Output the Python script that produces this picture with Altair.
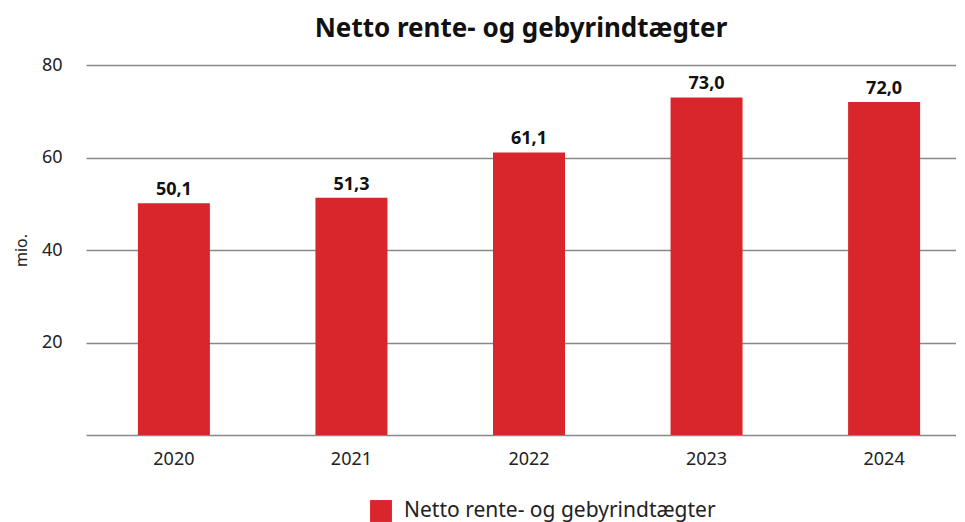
import altair as alt
import pandas as pd

years = ["2020", "2021", "2022", "2023", "2024"]
values = [50.1, 51.3, 61.1, 73.0, 72.0]
series_name = "Netto rente- og gebyrindtægter"

df = pd.DataFrame({
    "year": years,
    "value": values,
    "label": [f"{v:.1f}".replace(".", ",") for v in values],
    "series": [series_name] * len(years),
})

FONT = "Noto Sans"
RED = "#d9252c"
SHIFT = 8

base = alt.Chart(df)

xscale = alt.Scale(paddingInner=0.59, paddingOuter=0.245)

bars = base.mark_bar(size=72, xOffset=SHIFT).encode(
    x=alt.X("year:N", title=None, sort=years, scale=xscale,
            axis=alt.Axis(labelAngle=0, labelFontSize=18, labelColor="#222",
                          ticks=False, labelPadding=15, domainColor="#888",
                          domainWidth=1.5, labelFont=FONT, labelOffset=SHIFT)),
    y=alt.Y("value:Q", title="mio.",
            scale=alt.Scale(domain=[0, 80], nice=False),
            axis=alt.Axis(values=[20, 40, 60, 80], domain=False, ticks=False,
                          labelFontSize=18, labelColor="#222", labelPadding=24,
                          gridColor="#888", gridWidth=1.5,
                          titleFontSize=16, titleFontWeight="normal",
                          titleColor="#222", titlePadding=12, labelFont=FONT,
                          titleFont=FONT)),
    color=alt.Color("series:N", title=None,
                    scale=alt.Scale(range=[RED]),
                    legend=alt.Legend(orient="none", legendX=284, legendY=435,
                                      direction="horizontal",
                                      symbolType="square", labelLimit=0,
                                      symbolSize=480, labelFontSize=21,
                                      labelOffset=12,
                                      labelColor="#222", labelFont=FONT,
                                      symbolStrokeWidth=0)),
)

texts = base.mark_text(dy=-13, dx=SHIFT, fontSize=18, fontWeight="bold",
                       color="#111", font=FONT).encode(
    x=alt.X("year:N", sort=years, scale=xscale),
    y="value:Q",
    text="label:N",
)

chart = (bars + texts).properties(
    width=870,
    height=370,
    padding={"left": 5, "top": 8, "right": 0, "bottom": 5},
    title=alt.TitleParams(series_name, fontSize=26, fontWeight="bold",
                          color="#111", font=FONT, offset=14),
).configure_view(stroke=None)

chart.save("out.html", embed_options={"renderer": "svg", "actions": False})
